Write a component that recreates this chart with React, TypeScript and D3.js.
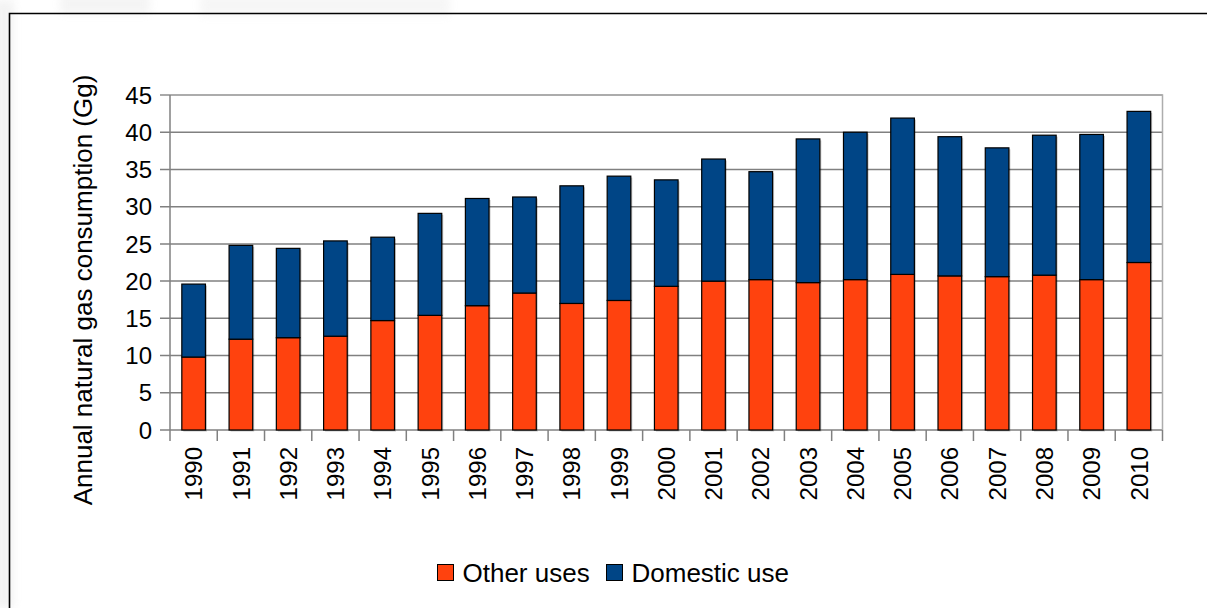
import React, { useEffect } from "react";
import * as d3 from "d3";

// Annual natural gas consumption by year, stacked by use (Gg)
const years = [
  "1990", "1991", "1992", "1993", "1994", "1995", "1996", "1997", "1998", "1999", "2000",
  "2001", "2002", "2003", "2004", "2005", "2006", "2007", "2008", "2009", "2010",
];
const otherUses = [
  9.8, 12.2, 12.4, 12.6, 14.7, 15.4, 16.7, 18.4, 17.0, 17.4, 19.3,
  20.0, 20.2, 19.8, 20.2, 20.9, 20.7, 20.6, 20.8, 20.2, 22.5,
];
const domesticUse = [
  9.8, 12.6, 12.0, 12.8, 11.2, 13.7, 14.4, 12.9, 15.8, 16.7, 14.3,
  16.4, 14.5, 19.3, 19.8, 21.0, 18.7, 17.3, 18.8, 19.5, 20.3,
];
const yTicks = [0, 5, 10, 15, 20, 25, 30, 35, 40, 45];
const seriesNames = ["Other uses", "Domestic use"];
const seriesColors = ["#ff420e", "#004586"];

const W = 1207;
const H = 608;
const plot = { left: 170, right: 1162.5, top: 95, bottom: 430 };
const FONT = "'Liberation Sans', Arial, sans-serif";

export default function App() {
  useEffect(() => {
    document.body.style.margin = "0";
  }, []);

  const rows = years.map((y, i) => ({
    year: y,
    "Other uses": otherUses[i],
    "Domestic use": domesticUse[i],
  }));
  const stacked = d3.stack<any>().keys(seriesNames)(rows);

  const x = d3
    .scaleBand<string>()
    .domain(years)
    .range([plot.left, plot.right])
    .paddingInner(0.5)
    .paddingOuter(0.25);
  const y = d3.scaleLinear().domain([0, 45]).range([plot.bottom, plot.top]);
  const step = x.step();
  const boundaries = years.map((yr) => (x(yr) as number) - step * 0.25).concat([plot.right]);

  return (
    <svg width={W} height={H} style={{ display: "block", background: "#fff" }} fontFamily={FONT}>
      <defs>
        <filter id="haze" x="-50%" y="-50%" width="200%" height="200%">
          <feGaussianBlur stdDeviation="4" />
        </filter>
      </defs>
      {/* soft grey haze around the frame edge */}
      <g filter="url(#haze)" opacity={0.45}>
        <rect x={-6} y={0} width={20} height={H} fill="#e4e4e4" />
        <rect x={60} y={-6} width={90} height={20} fill="#e8e8e8" />
        <rect x={200} y={-6} width={250} height={22} fill="#ececec" />
      </g>
      {/* page frame */}
      <path d={`M9.5,${H + 2} V13.5 H${W + 2}`} fill="none" stroke="#000" strokeWidth={1.6} />

      {/* horizontal grid */}
      {yTicks.map((t) => (
        <line
          key={`g${t}`}
          x1={plot.left - 10}
          x2={plot.right}
          y1={y(t)}
          y2={y(t)}
          stroke={t === 45 ? "#8c8c8c" : "#808080"}
          strokeWidth={1.5}
        />
      ))}
      {/* plot area border top/right */}
      <path
        d={`M${plot.left},${plot.top} H${plot.right} V${plot.bottom}`}
        fill="none"
        stroke="#adadad"
        strokeWidth={1.5}
      />
      {/* y axis line */}
      <line x1={plot.left} x2={plot.left} y1={plot.top} y2={plot.bottom} stroke="#808080" strokeWidth={1.5} />
      {/* x axis category ticks */}
      {boundaries.map((bx, i) => (
        <line key={`t${i}`} x1={bx} x2={bx} y1={plot.bottom} y2={plot.bottom + 11} stroke="#808080" strokeWidth={1.5} />
      ))}

      {/* bar shadows */}
      {years.map((yr, i) => (
        <rect
          key={`s${yr}`}
          x={(x(yr) as number) + 1.5}
          y={y(stacked[1][i][1]) + 1.5}
          width={x.bandwidth()}
          height={y(0) - y(stacked[1][i][1])}
          fill="#000"
          opacity={0.22}
        />
      ))}
      {/* stacked bars */}
      {stacked.map((layer, li) => (
        <g key={layer.key} fill={seriesColors[li]} stroke="#000" strokeWidth={1.2}>
          {layer.map((d, i) => (
            <rect
              key={years[i]}
              x={x(years[i]) as number}
              y={y(d[1])}
              width={x.bandwidth()}
              height={y(d[0]) - y(d[1])}
            />
          ))}
        </g>
      ))}

      {/* y tick labels */}
      {yTicks.map((t) => (
        <text key={`yl${t}`} x={152} y={y(t)} dy="0.36em" textAnchor="end" fontSize={24} fill="#000">
          {t}
        </text>
      ))}
      {/* x tick labels */}
      {years.map((yr) => {
        const cx = (x(yr) as number) + x.bandwidth() / 2;
        return (
          <text
            key={`xl${yr}`}
            transform={`translate(${cx},447) rotate(-90)`}
            dy="0.36em"
            textAnchor="end"
            fontSize={24}
            fill="#000"
          >
            {yr}
          </text>
        );
      })}
      {/* y axis title */}
      <text
        transform={`translate(83,290) rotate(-90)`}
        dy="0.36em"
        textAnchor="middle"
        fontSize={26}
        fill="#000"
      >
        Annual natural gas consumption (Gg)
      </text>

      {/* legend */}
      <g fontSize={26} fill="#000">
        <rect x={437.5} y={564.5} width={16} height={16} fill={seriesColors[0]} stroke="#000" strokeWidth={1} />
        <text x={462.5} y={581.5}>{seriesNames[0]}</text>
        <rect x={606.5} y={564.5} width={16} height={16} fill={seriesColors[1]} stroke="#000" strokeWidth={1} />
        <text x={631.5} y={581.5}>{seriesNames[1]}</text>
      </g>
    </svg>
  );
}
